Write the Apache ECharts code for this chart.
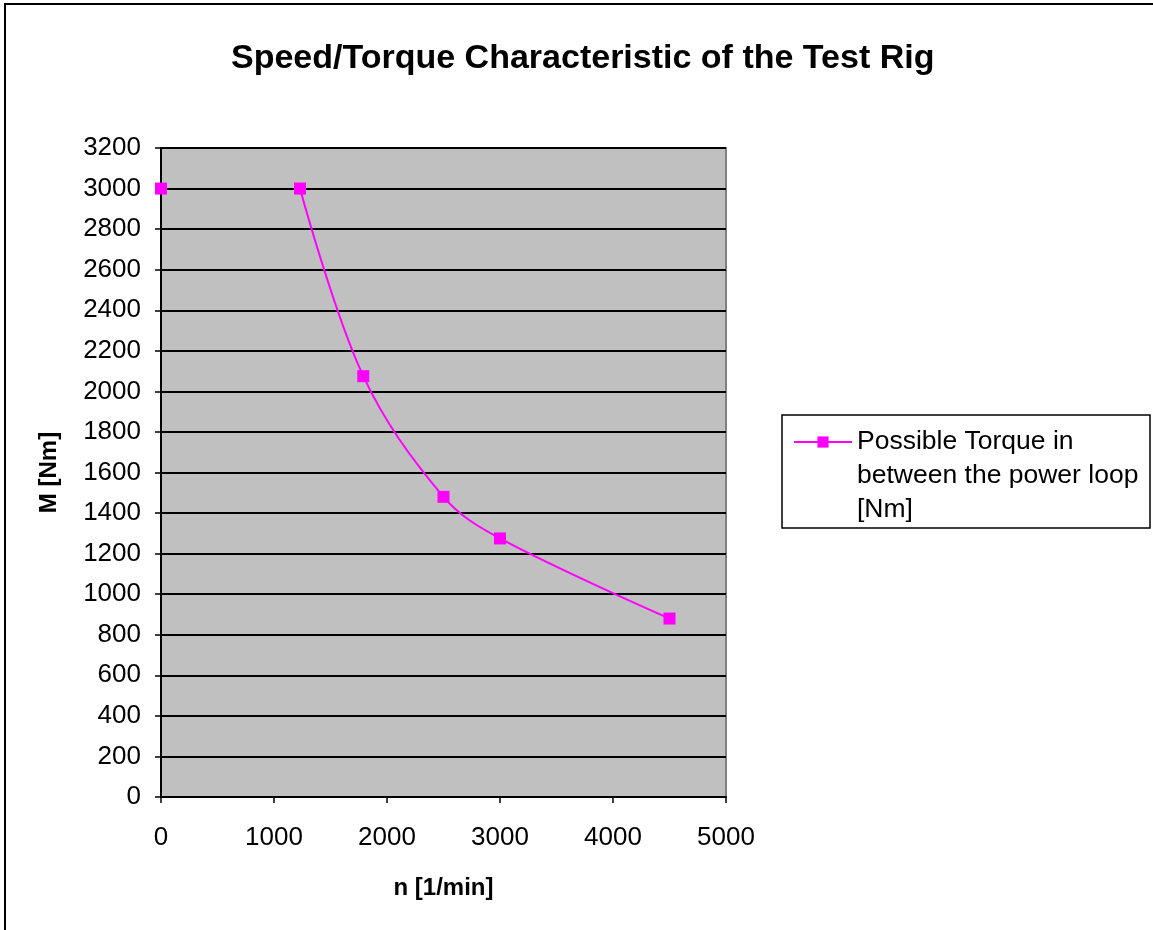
<!DOCTYPE html>
<html>
<head>
<meta charset="utf-8">
<script src="https://cdn.jsdelivr.net/npm/echarts@6/dist/echarts.min.js"></script>
<style>html,body{margin:0;padding:0;background:#fff}#c{width:1153px;height:930px}</style>
</head>
<body>
<div id="c"></div>
<script>
const speed = [0, 1230, 1790, 2500, 3000, 4500];
const torque = [3000, 3000, 2075, 1480, 1275, 880];
const seriesName = 'Possible Torque in\nbetween the power loop\n[Nm]';
const titleText = 'Speed/Torque Characteristic of the Test Rig';
const xName = 'n [1/min]';
const yName = 'M [Nm]';

const data = [];
speed.forEach((s, i) => {
  data.push([s, torque[i]]);
  if (i === 0) data.push('-');
});

const chart = echarts.init(document.getElementById('c'));
const FONT = 'Liberation Sans, Arial, sans-serif';
chart.setOption({
  animation: false,
  textStyle: { fontFamily: FONT },
  title: {
    text: titleText, left: 226, top: 37,
    textStyle: { fontFamily: FONT, fontSize: 34, fontWeight: 'bold', color: '#000' }
  },
  graphic: [
    { type: 'line', shape: { x1: 4, y1: 4, x2: 1153, y2: 4 }, style: { stroke: '#000', lineWidth: 2 } },
    { type: 'line', shape: { x1: 5, y1: 4, x2: 5, y2: 930 }, style: { stroke: '#000', lineWidth: 2 } },
    { type: 'rect', shape: { x: 782, y: 415, width: 368, height: 113 }, style: { fill: 'none', stroke: '#000', lineWidth: 1.5 } }
  ],
  grid: { left: 161, right: 427, top: 148, bottom: 133, show: true, backgroundColor: '#C0C0C0', borderColor: '#808080', borderWidth: 2 },
  legend: {
    data: [seriesName],
    orient: 'vertical', left: 793, top: 357,
    padding: 0,
    itemWidth: 58, itemHeight: 14, itemGap: 0,
    formatter: name => '\n\n' + name,
    textStyle: { fontFamily: FONT, fontSize: 26.5, color: '#000', lineHeight: 34 }
  },
  xAxis: {
    type: 'value', min: 0, max: 5000, interval: 1000,
    name: xName, nameLocation: 'middle', nameGap: 79,
    nameTextStyle: { fontFamily: FONT, fontSize: 24, fontWeight: 'bold', color: '#000' },
    axisLine: { show: true, onZero: false, lineStyle: { color: '#000', width: 2 } },
    axisTick: { show: true, length: 6, lineStyle: { color: '#000', width: 1.5 } },
    axisLabel: { fontFamily: FONT, fontSize: 26, color: '#000', margin: 28, formatter: v => String(v) },
    splitLine: { show: false }
  },
  yAxis: {
    type: 'value', min: 0, max: 3200, interval: 200,
    name: yName, nameLocation: 'middle', nameGap: 100, nameRotate: 90,
    nameTextStyle: { fontFamily: FONT, fontSize: 24, fontWeight: 'bold', color: '#000' },
    axisLine: { show: true, lineStyle: { color: '#000', width: 2 } },
    axisTick: { show: true, length: 6, lineStyle: { color: '#000', width: 1.5 } },
    axisLabel: { fontFamily: FONT, fontSize: 26, color: '#000', margin: 20, formatter: v => String(v) },
    splitLine: { show: true, lineStyle: { color: '#000', width: 2 } }
  },
  series: [{
    name: seriesName, type: 'line', data: data,
    connectNulls: false, smooth: 0.35,
    symbol: 'rect', symbolSize: 12,
    lineStyle: { color: '#FF00FF', width: 2 },
    itemStyle: { color: '#FF00FF' }
  }]
});
</script>
</body>
</html>
